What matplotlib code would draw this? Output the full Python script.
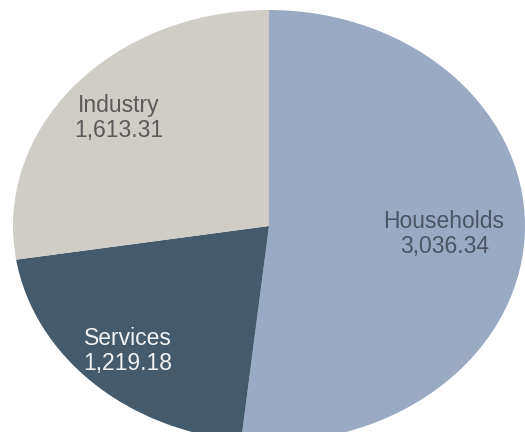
import numpy as np
import matplotlib.pyplot as plt

# energy use by sector
sectors = ["Households", "Services", "Industry"]
values = [3036.34, 1219.18, 1613.31]
colors = ["#9aaac3", "#455a6a", "#d0cdc7"]
text_colors = ["#4b5563", "#f2f2f2", "#5a5a5a"]
label_dist = [0.685, 0.80, 0.77]

plt.rcParams["font.family"] = ["Liberation Sans", "DejaVu Sans"]

W, H = 525, 432
fig = plt.figure(figsize=(W / 100, H / 100), dpi=100)
ax = fig.add_axes([0, 0, 1, 1])

wedges, _ = ax.pie(values, colors=colors, startangle=90, counterclock=False,
                   radius=1.0, wedgeprops=dict(linewidth=0))

for w, name, val, tc, d in zip(wedges, sectors, values, text_colors, label_dist):
    mid = np.deg2rad((w.theta1 + w.theta2) / 2)
    ax.text(d * np.cos(mid), d * np.sin(mid), f"{name}\n{val:,.2f}",
            ha="center", va="center", fontsize=16.5, color=tc, linespacing=1.1)

# stretched ellipse: centre at (269, 226) px, radii 256 x 216 px
cx, cy, rx, ry = 269, H - 226, 256, 216
ax.set_aspect("auto")
ax.set_xlim(-cx / rx, (W - cx) / rx)
ax.set_ylim(-cy / ry, (H - cy) / ry)
ax.axis("off")

fig.savefig("out.png", dpi=100, facecolor="white")
